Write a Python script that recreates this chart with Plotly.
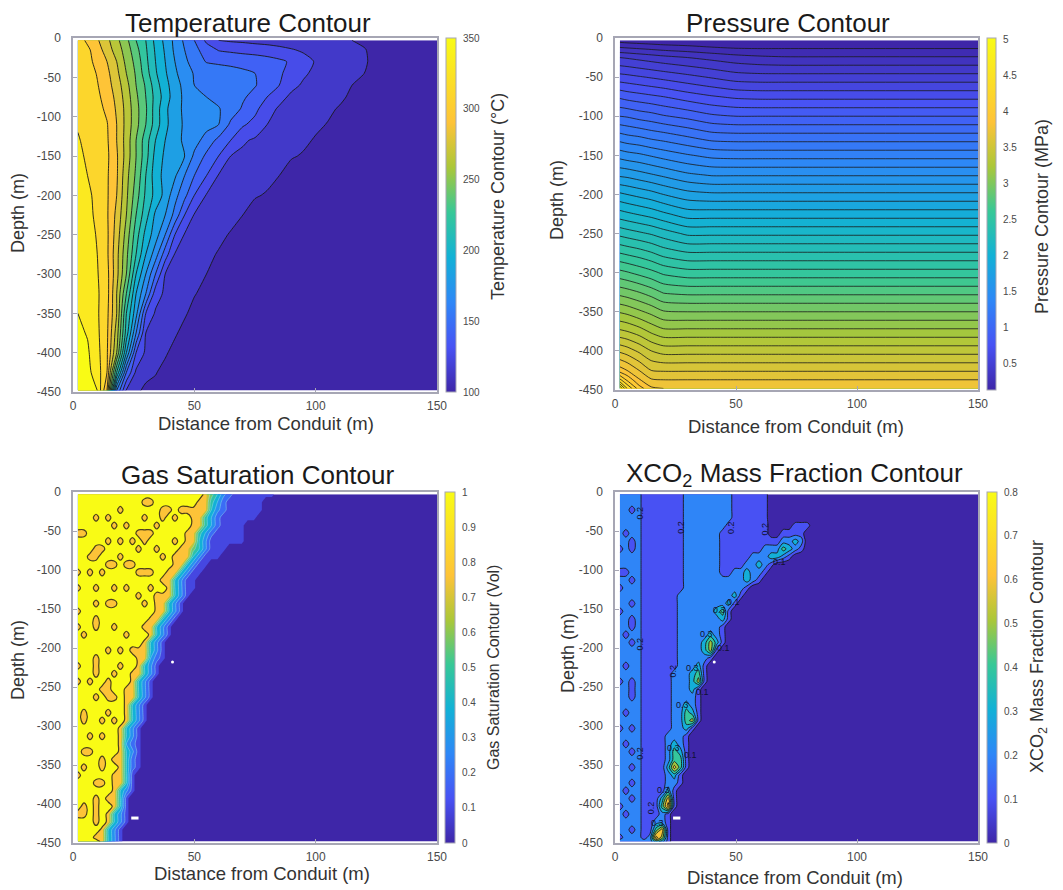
import plotly.graph_objects as go

W, H = 1063, 890

PARULA_STOPS = [0.0, 0.127, 0.254, 0.381, 0.508, 0.635, 0.762, 1.0]
PARULA_RGB = ["rgb(62,38,168)", "rgb(72,82,244)", "rgb(46,135,247)", "rgb(18,177,214)",
              "rgb(55,200,151)", "rgb(171,199,57)", "rgb(254,195,56)", "rgb(249,251,21)"]
PARULA = [[s, c] for s, c in zip(PARULA_STOPS, PARULA_RGB)]


def stretched(orange_at):
    # contour bands take the colour of their lower level, so orange sits higher in the band range
    f = orange_at / PARULA_STOPS[6]
    return [[s * f if s < 1 else 1.0, c] for s, c in zip(PARULA_STOPS, PARULA_RGB)]


DEPTH_TICKS = [0, -50, -100, -150, -200, -250, -300, -350, -400, -450]
DEPTH_LABELS = ["0", "-50", "-100", "-150", "-200", "-250", "-300", "-350", "-400", "-450"]
DIST_TICKS = [0, 50, 100, 150]

# ---------- Temperature (deg C), read at each depth and distance ----------
T_X = [2, 6, 10, 14, 18, 22, 26, 30, 34, 38, 42, 46, 50, 55, 60, 65, 70, 75, 80, 85, 90, 95, 100, 105, 110, 115, 120, 125, 150]
T_Y = [-3, -15, -30, -45, -60, -75, -90, -110, -130, -150, -175, -200, -225, -250, -275, -300, -325, -350, -375, -400, -425, -448]
T_ROWS = [
    [322, 312, 302, 289, 274, 259, 240, 225, 206, 191, 176, 162, 150, 132, 120, 118, 117, 115, 114, 113, 112, 110, 109, 108, 106, 105, 102],
    [323, 318, 307, 293, 278, 263, 245, 227, 208, 193, 177, 165, 155, 142, 134, 132, 130, 129, 127, 124, 121, 118, 116, 113, 111, 108, 106],
    [324, 320, 310, 300, 285, 266, 250, 229, 210, 195, 180, 168, 159, 149, 147, 146, 145, 143, 141, 138, 133, 125, 119, 116, 113, 110, 107],
    [325, 322, 314, 304, 289, 270, 253, 232, 212, 197, 183, 171, 164, 161, 159, 156, 153, 150, 144, 137, 130, 122, 117, 114, 111, 108, 105],
    [326, 323, 316, 306, 293, 275, 255, 238, 217, 200, 187, 175, 165, 162, 159, 156, 153, 151, 143, 135, 124, 118, 115, 112, 108, 105],
    [327, 324, 318, 309, 296, 278, 258, 240, 220, 203, 187, 177, 170, 165, 161, 156, 152, 145, 135, 125, 117, 115, 112, 109, 107, 103],
    [328, 326, 320, 312, 298, 280, 260, 242, 218, 199, 184, 178, 175, 171, 166, 158, 148, 139, 126, 118, 115, 112, 110, 107, 104],
    [329, 327, 322, 316, 300, 280, 260, 240, 218, 199, 186, 178, 174, 170, 165, 147, 137, 130, 120, 116, 113, 110, 107, 104.5],
    [331, 327, 321, 317, 300, 279, 255, 232, 210, 195, 186, 177, 171, 159, 146, 135, 122, 118, 115, 112, 110, 107, 104],
    [333, 328, 323, 318, 302, 279, 255, 231, 205, 192, 186, 180, 162, 147, 135, 120, 117, 115, 112, 109, 106, 104],
    [336, 330, 324, 317, 302, 275, 252, 225, 202, 190, 182, 165, 150, 135, 119, 116, 113, 111, 108, 105],
    [338, 333, 326, 317, 300, 273, 247, 222, 205, 190, 170, 154, 135, 119, 116, 113, 109, 106, 104],
    [339, 334, 327, 317, 296, 270, 240, 216, 192, 180, 160, 135, 119, 116, 113, 109, 105],
    [340, 335, 329, 318, 293, 264, 232, 205, 187, 165, 135, 119, 117, 112, 108, 104],
    [341, 336, 330, 318, 290, 259, 225, 195, 172, 142, 119, 116, 113, 108, 104],
    [342, 337, 331, 320, 290, 255, 210, 180, 150, 120, 116, 113, 109, 105],
    [343, 337, 332, 321, 285, 240, 195, 165, 127, 117, 114, 110, 106],
    [345, 338, 332, 319, 285, 225, 185, 135, 118, 115, 111, 107],
    [348, 344, 333, 318, 278, 218, 165, 120, 116, 112, 107],
    [349, 347, 335, 317, 270, 195, 135, 117, 112, 107],
    [350, 349, 338, 315, 225, 150, 117, 112, 106],
    [350, 349, 345, 300, 165, 118, 110],
]

# ---------- Pressure (MPa) ----------
P_X = [2, 5, 10, 15, 20, 30, 40, 50, 60, 70, 100, 150]
P_Y = [-3, -25, -50, -75, -100, -125, -150, -175, -200, -225, -250, -275, -300, -325, -350, -375, -400, -425, -438, -448]
P_ROWS = [
    [0.16, 0.15, 0.14, 0.13, 0.12, 0.11, 0.09, 0.08, 0.09, 0.10, 0.10, 0.10],
    [0.50, 0.49, 0.47, 0.45, 0.43, 0.40, 0.37, 0.34, 0.32, 0.31, 0.31, 0.31],
    [0.74, 0.73, 0.71, 0.69, 0.67, 0.63, 0.59, 0.55, 0.54, 0.54, 0.54, 0.54],
    [0.98, 0.96, 0.94, 0.92, 0.90, 0.85, 0.81, 0.78, 0.77, 0.77, 0.77, 0.77],
    [1.20, 1.19, 1.16, 1.14, 1.11, 1.07, 1.02, 1.00, 1.00, 1.00, 1.00, 1.00],
    [1.43, 1.41, 1.39, 1.36, 1.34, 1.29, 1.24, 1.23, 1.23, 1.23, 1.23, 1.23],
    [1.66, 1.64, 1.62, 1.59, 1.56, 1.51, 1.47, 1.46, 1.46, 1.46, 1.46, 1.46],
    [1.88, 1.87, 1.84, 1.81, 1.78, 1.72, 1.69, 1.69, 1.69, 1.69, 1.69, 1.69],
    [2.12, 2.10, 2.07, 2.04, 2.00, 1.94, 1.92, 1.92, 1.92, 1.92, 1.92, 1.92],
    [2.34, 2.32, 2.29, 2.26, 2.22, 2.15, 2.15, 2.15, 2.15, 2.15, 2.15, 2.15],
    [2.57, 2.55, 2.52, 2.49, 2.45, 2.38, 2.38, 2.38, 2.38, 2.38, 2.38, 2.38],
    [2.80, 2.78, 2.75, 2.71, 2.66, 2.61, 2.61, 2.61, 2.61, 2.61, 2.61, 2.61],
    [3.03, 3.01, 2.97, 2.93, 2.88, 2.84, 2.84, 2.84, 2.84, 2.84, 2.84, 2.84],
    [3.26, 3.24, 3.20, 3.15, 3.09, 3.07, 3.07, 3.07, 3.07, 3.07, 3.07, 3.07],
    [3.49, 3.47, 3.42, 3.37, 3.31, 3.30, 3.30, 3.30, 3.30, 3.30, 3.30, 3.30],
    [3.72, 3.70, 3.65, 3.58, 3.53, 3.53, 3.53, 3.53, 3.53, 3.53, 3.53, 3.53],
    [3.98, 3.95, 3.88, 3.80, 3.76, 3.76, 3.76, 3.76, 3.76, 3.76, 3.76, 3.76],
    [4.25, 4.20, 4.10, 4.00, 3.99, 3.99, 3.99, 3.99, 3.99, 3.99, 3.99, 3.99],
    [4.55, 4.40, 4.22, 4.12, 4.11, 4.11, 4.11, 4.11, 4.11, 4.11, 4.11, 4.11],
    [4.90, 4.60, 4.35, 4.22, 4.20, 4.20, 4.20, 4.20, 4.20, 4.20, 4.20, 4.20],
]

# ---------- Gas saturation and XCO2 share one sampling of the picture ----------
CELL_X = [2, 4.5, 7, 9.5, 12, 14.5, 17, 19.5, 22, 24.5, 27, 29.5, 32, 34.5, 37, 39.5, 42, 44.5, 47, 49.5,
          52, 54.5, 57, 59.5, 62, 64.5, 67, 69.5, 72, 74.5, 77, 79.5, 82, 84.5, 150]
CELL_Y = [-3, -13, -23, -33, -43, -53, -63, -73, -83, -93, -103, -113, -123, -133, -143, -153, -163, -173,
          -183, -193, -203, -213, -223, -233, -243, -253, -263, -273, -283, -293, -303, -313, -323, -333,
          -343, -353, -363, -373, -383, -393, -403, -413, -423, -433, -443, -448]
GAS_BAND_VALUES = {"X": 1.0, "8": 0.85, "7": 0.65, "6": 0.55, "5": 0.5, "4": 0.4, "3": 0.33, "2": 0.24, "1": 0.15, "0": 0.0}
GAS_POCKET_VALUE = 0.82
XCO2_POCKET_VALUE = 0.15

# per depth: cells at full saturation, cells at ~0.85, front readings, cells at ~0.15
GAS_FRONT = [
    (21, 1, "7532", 7), (20, 2, "642", 6), (19, 3, "532", 6), (19, 2, "642", 6), (19, 2, "642", 4),
    (18, 2, "642", 5), (18, 2, "53", 6), (17, 2, "753", 3), (17, 2, "53", 3), (16, 2, "53", 2),
    (16, 1, "53", 2), (15, 1, "53", 2), (15, 1, "53", 2), (14, 2, "53", 1), (13, 2, "53", 1),
    (13, 2, "53", 1), (12, 2, "53", 1), (12, 1, "53", 1), (12, 1, "53", 1), (11, 1, "53", 1),
    (10, 2, "53", 1), (10, 2, "42", 1), (10, 1, "53", 1), (9, 2, "53", 1), (9, 1, "53", 1),
    (8, 2, "53", 1), (8, 2, "53", 1), (8, 1, "53", 1), (8, 1, "53", 1), (8, 1, "53", 1),
    (7, 1, "53", 1), (7, 1, "53", 1), (7, 1, "42", 1), (7, 1, "53", 1), (7, 1, "52", 1),
    (7, 1, "52", 1), (6, 2, "5", 1), (6, 2, "5", 1), (6, 1, "53", 1), (6, 1, "5", 1),
    (6, 1, "5", 1), (5, 1, "53", 1), (5, 1, "53", 1), (4, 1, "53", 1), (4, 1, "53", 1), (4, 1, "53", 1),
]
# (depth row, distance column) of the small low-saturation pockets
GAS_POCKETS = [
    (1, 11), (1, 12), (2, 14), (2, 15), (2, 17), (2, 18), (2, 7), (3, 5), (3, 3), (3, 11), (4, 13), (3, 14), (3, 16),
    (4, 6), (4, 8), (5, 10), (5, 11), (5, 12), (5, 1), (5, 0), (6, 5), (6, 7), (6, 9), (6, 11), (6, 16), (7, 3), (7, 4),
    (8, 2), (8, 7), (7, 10), (7, 13), (8, 14), (8, 16), (8, 3), (9, 5), (9, 6), (9, 8), (9, 9), (10, 0), (10, 2), (10, 4),
    (10, 10), (10, 11), (10, 12), (11, 14), (10, 15), (12, 0), (12, 3), (12, 6), (12, 8), (13, 10), (12, 12), (13, 13),
    (14, 5), (14, 3), (14, 6), (14, 11), (15, 0), (16, 3), (17, 6), (17, 3), (17, 0), (18, 1), (17, 11), (18, 8), (20, 5),
    (20, 7), (20, 9), (21, 3), (22, 0), (22, 7), (22, 3), (23, 3), (23, 6), (24, 5), (24, 2), (25, 4), (25, 5), (24, 0),
    (26, 3), (26, 6), (26, 5), (28, 1), (28, 5), (29, 4), (29, 6), (29, 1), (31, 2), (31, 4), (33, 1), (33, 2), (34, 4),
    (34, 6), (35, 4), (35, 1), (37, 3), (37, 4), (36, 0), (39, 3), (41, 0), (40, 1), (40, 3), (39, 5), (41, 1), (41, 3),
    (42, 3), (44, 3),
]

# digit n stands for a reading between 0.n and 0.n+1
XCO2_ROWS = [
    "2222111111122222222111111", "2222111111122222222111111", "2222111111122222222111111", "2222111111122222222111111",
    "22221111111222222211111110000111",
    "2222111111122222211111111001111",
    "2222111111122222211111111112232",
    "2222111111122222211111112224321",
    "22221111111222222111112223321",
    "22221111111222222111122321",
    "2222111111122222211223221",
    "222211111112222222222321",
    "2222111111122222222221",
    "222211111122222222231",
    "22221111112222222231",
    "2222111111222222341",
    "2222111111222222231",
    "222211111122222221",
    "222211111122222321",
    "222211111122223531",
    "22221111112222351",
    "2222111111222221",
    "222211111122231",
    "222211111222341",
    "222211111222351",
    "22221111122231",
    "22221111122221",
    "22221111122321",
    "22221111122431",
    "22221111122451",
    "2222111112231",
    "222211112221",
    "222211112321",
    "222211112431",
    "222211112441",
    "222211113641",
    "22221111231",
    "22221111221",
    "2222111131",
    "2222111361",
    "2222111471",
    "222211121",
    "222211221",
    "222211461",
    "222212751",
    "222222431",
]
# (depth row, distance column) of the small pockets under 0.2 beside the conduit
XCO2_POCKETS = [
    (2, 2), (5, 1), (7, 0), (7, 2), (6, 2), (10, 0), (10, 1), (12, 0), (11, 2), (14, 2), (15, 0), (16, 2), (17, 2), (18, 1),
    (19, 2), (22, 1), (24, 0), (24, 2), (25, 2), (26, 2), (28, 1), (30, 0), (30, 2), (32, 1), (33, 2),
    (35, 2), (37, 2), (38, 1), (39, 2), (40, 0), (41, 1), (43, 2), (44, 0),
]

# contour labels visible in the XCO2 panel: text, distance, depth, angle
XCO2_LABELS = [
    ("0.2", 10.5, -27, -90), ("0.2", 10.5, -195, -90), ("0.2", 10.5, -335, -90), ("0.2", 27.5, -45, -90),
    ("0.2", 24, -230, -90), ("0.2", 48, -46, -90), ("0.2", 62, -48, -90), ("0.2", 15, -405, -90),
    ("0.3", 38, -182, 0), ("0.3", 32, -226, 0), ("0.3", 28, -273, 0), ("0.3", 24, -328, 0), ("0.3", 20, -382, 0),
    ("0.3", 17.5, -424, 0), ("0.3", 43, -151, 0), ("0.1", 68, -90, 0), ("0.1", 49, -141, 0), ("0.1", 45, -200, 0),
    ("0.1", 36, -256, 0), ("0.1", 31, -337, 0),
]

# small blank patches in the lower panels: distance, depth
HOLE_X = [24, 27]
HOLE_Y = [-418, -418]
HOLE_DOT_X = [41]
HOLE_DOT_Y = [-218]


def pad(row, n, fill):
    return list(row) + [fill] * (n - len(row))


T_Z = [pad(r, len(T_X), 100) for r in T_ROWS]

GAS_Z = []
for (nx, n8, front, n1) in GAS_FRONT:
    cells = "X" * nx + "8" * n8 + front + "1" * n1
    GAS_Z.append(pad([GAS_BAND_VALUES[c] for c in cells], len(CELL_X), 0.0))
for r, c in GAS_POCKETS:
    GAS_Z[r][c] = GAS_POCKET_VALUE

XCO2_Z = [pad([(int(c) + 0.5) / 10 for c in row], len(CELL_X), 0.02) for row in XCO2_ROWS]
for r, c in XCO2_POCKETS:
    XCO2_Z[r][c] = XCO2_POCKET_VALUE

X_TITLE = "Distance from Conduit (m)"
Y_TITLE = "Depth (m)"

PANELS = [
    dict(title="Temperature Contour", tx=248, ty=23, box=(73, 437, 38, 392), cb=(446, 456, 38, 392),
         x=T_X, y=T_Y, z=T_Z, lev=(105, 345, 15), rng=(100, 350), width=0.9, fill=stretched(0.82),
         cbt=[100, 150, 200, 250, 300, 350], cbl=["100", "150", "200", "250", "300", "350"],
         cbtitle="Temperature Contour (°C)", cbx=498, cby=197, cbs=18, xl=(266, 423), yl=(18, 213), holes=False),
    dict(title="Pressure Contour", tx=788, ty=23, box=(615, 978, 38, 390), cb=(987, 996, 38, 390),
         x=P_X, y=P_Y, z=P_ROWS, lev=(0.2, 4.9, 0.1), rng=(0.13, 5.02), width=0.8, fill=stretched(0.86),
         cbt=[0.5, 1, 1.5, 2, 2.5, 3, 3.5, 4, 4.5, 5], cbl=["0.5", "1", "1.5", "2", "2.5", "3", "3.5", "4", "4.5", "5"],
         cbtitle="Pressure Contour (MPa)", cbx=1042, cby=217, cbs=18, xl=(796, 426), yl=(557, 200), holes=False),
    dict(title="Gas Saturation Contour", tx=257, ty=475, box=(73, 437, 492, 843), cb=(445, 455, 492, 843),
         x=CELL_X, y=CELL_Y, z=GAS_Z, lev=(0.1, 0.9, 0.1), rng=(0, 1), width=0, fill=stretched(0.89),
         cbt=[0, .1, .2, .3, .4, .5, .6, .7, .8, .9, 1], cbl=["0", "0.1", "0.2", "0.3", "0.4", "0.5", "0.6", "0.7", "0.8", "0.9", "1"],
         cbtitle="Gas Saturation Contour (Vol)", cbx=493, cby=668, cbs=16, xl=(262, 873), yl=(18, 660), holes=True),
    dict(title="XCO<sub>2</sub> Mass Fraction Contour", tx=794, ty=474, box=(615, 978, 492, 843), cb=(987, 997, 492, 843),
         x=CELL_X, y=CELL_Y, z=XCO2_Z, lev=(0.1, 0.8, 0.1), rng=(0, 0.8), width=0.9, fill=PARULA,
         cbt=[0, .1, .2, .3, .4, .5, .6, .7, .8], cbl=["0", "0.1", "0.2", "0.3", "0.4", "0.5", "0.6", "0.7", "0.8"],
         cbtitle="XCO<sub>2</sub> Mass Fraction Contour", cbx=1038, cby=657, cbs=18, xl=(795, 877), yl=(568, 653), holes=True),
]

fig = go.Figure()
layout = dict(width=W, height=H, margin=dict(l=0, r=0, t=0, b=0, autoexpand=False), paper_bgcolor="white", plot_bgcolor="white",
              showlegend=False, font=dict(family="Liberation Sans, Arial, sans-serif", color="#333333"))
notes = []
AXIS_COLOR = "#a6a6b4"


def page_text(text, px, py, size, angle=0, color="#333333"):
    return dict(text=text, x=px / W, y=1 - py / H, xref="paper", yref="paper", showarrow=False, xanchor="center",
                yanchor="middle", textangle=angle, font=dict(size=size, color=color))


for n, p in enumerate(PANELS, start=1):
    s = "" if n == 1 else str(n)
    xa, ya = "x" + s, "y" + s
    l, r, t, b = p["box"]
    layout["xaxis" + s] = dict(domain=[l / W, r / W], range=[0, 150], tickvals=DIST_TICKS, ticks="inside", ticklen=4,
                               tickcolor=AXIS_COLOR, showline=True, mirror=True, linecolor=AXIS_COLOR, linewidth=1.5,
                               showgrid=False, zeroline=False, anchor=ya, tickfont=dict(size=12, color="#4a4a4a"),
                               ticklabelstandoff=2)
    layout["yaxis" + s] = dict(domain=[1 - b / H, 1 - t / H], range=[-450, 0], tickvals=DEPTH_TICKS, ticktext=DEPTH_LABELS,
                               ticks="inside", ticklen=4, tickcolor=AXIS_COLOR, showline=True, mirror=True,
                               linecolor=AXIS_COLOR, linewidth=1.5, showgrid=False, zeroline=False, anchor=xa,
                               tickfont=dict(size=12, color="#4a4a4a"), ticklabelstandoff=8)
    start, end, size = p["lev"]
    fig.add_trace(go.Contour(
        x=p["x"], y=p["y"], z=p["z"], xaxis=xa, yaxis=ya, colorscale=p["fill"], showscale=False, hoverinfo="skip",
        autocontour=False, contours=dict(start=start, end=end, size=size, coloring="fill"),
        line=dict(color="#1a1a1a", width=p["width"], smoothing=0.7 if p["width"] else 0)))
    if n == 3:
        # pale lines inside the saturation front, dark line round the saturated zone
        fig.add_trace(go.Contour(
            x=p["x"], y=p["y"], z=p["z"], xaxis=xa, yaxis=ya, showscale=False, hoverinfo="skip", autocontour=False,
            contours=dict(start=0.2, end=0.7, size=0.1, coloring="none"),
            line=dict(color="rgba(150,225,240,0.8)", width=0.6, smoothing=0.7)))
        fig.add_trace(go.Contour(
            x=p["x"], y=p["y"], z=p["z"], xaxis=xa, yaxis=ya, showscale=False, hoverinfo="skip", autocontour=False,
            contours=dict(start=0.9, end=0.9, size=0.1, coloring="none"),
            line=dict(color="#4d3f1c", width=1.2, smoothing=1)))
    cl, cr, ct, cb_ = p["cb"]
    fig.add_trace(go.Scatter(
        x=[None, None], y=[None, None], xaxis=xa, yaxis=ya, mode="markers", hoverinfo="skip",
        marker=dict(color=list(p["rng"]), cmin=p["rng"][0], cmax=p["rng"][1], colorscale=PARULA, showscale=True,
                    colorbar=dict(x=cl / W, xanchor="left", y=1 - cb_ / H, yanchor="bottom", len=(cb_ - ct) / H, lenmode="fraction",
                                  thickness=cr - cl, thicknessmode="pixels", xpad=0, ypad=0, outlinecolor=AXIS_COLOR, outlinewidth=1,
                                  ticks="outside", ticklen=5, tickcolor="rgba(0,0,0,0)", tickvals=p["cbt"], ticktext=p["cbl"],
                                  tickfont=dict(size=10, color="#4a4a4a")))))
    if p["holes"]:
        fig.add_trace(go.Scatter(x=HOLE_X, y=HOLE_Y, xaxis=xa, yaxis=ya, mode="lines", hoverinfo="skip",
                                 line=dict(color="white", width=3)))
        fig.add_trace(go.Scatter(x=HOLE_DOT_X, y=HOLE_DOT_Y, xaxis=xa, yaxis=ya, mode="markers", hoverinfo="skip",
                                 marker=dict(color="white", size=3)))
    notes.append(page_text(p["title"], p["tx"], p["ty"], 26, color="#1a1a1a"))
    notes.append(page_text(X_TITLE, p["xl"][0], p["xl"][1], 18.5))
    notes.append(page_text(Y_TITLE, p["yl"][0], p["yl"][1], 18, angle=-90))
    notes.append(page_text(p["cbtitle"], p["cbx"], p["cby"], p["cbs"], angle=-90))
    if n == 4:
        for text, lx, ly, ang in XCO2_LABELS:
            notes.append(dict(text=text, x=lx, y=ly, xref=xa, yref=ya, showarrow=False, textangle=ang,
                              font=dict(size=9, color="#111133")))

layout["annotations"] = notes
fig.update_layout(**layout)
fig.write_html("out.html", config=dict(displayModeBar=False),
               post_script="document.body.style.margin='0';document.body.style.overflow='hidden';")
